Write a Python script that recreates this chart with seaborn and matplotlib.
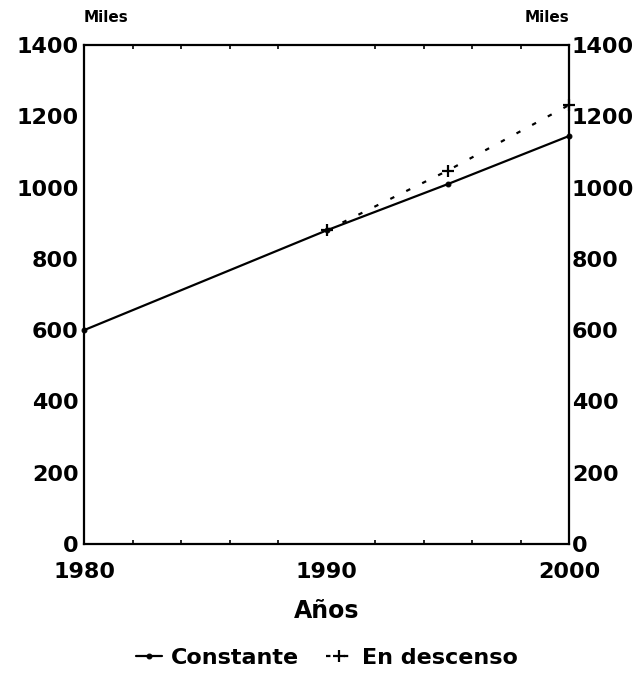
import numpy as np
import pandas as pd
import matplotlib
matplotlib.use("Agg")
import matplotlib.pyplot as plt
import seaborn as sns

# ============================================
# Data (miles)
# ============================================
years_const = [1980, 1990, 1995, 2000]
constante = [600, 880, 1010, 1145]

years_desc = [1990, 1995, 2000]
en_descenso = [880, 1048, 1232]

y_ticks = [0, 200, 400, 600, 800, 1000, 1200, 1400]
x_ticks = [1980, 1990, 2000]

sns.set_style("white")
plt.rcParams["font.family"] = ["DejaVu Sans"]
plt.rcParams["font.weight"] = "bold"
plt.rcParams["text.color"] = "black"
plt.rcParams["xtick.color"] = "black"
plt.rcParams["ytick.color"] = "black"
plt.rcParams["axes.labelcolor"] = "black"

fig = plt.figure(figsize=(6.39, 6.74), dpi=100)
ax = fig.add_axes([0.1315, 0.193, 0.759, 0.740])

df_c = pd.DataFrame({"year": years_const, "value": constante})
df_d = pd.DataFrame({"year": years_desc, "value": en_descenso})

sns.lineplot(data=df_c, x="year", y="value", ax=ax, color="black",
             linewidth=1.6, marker="o", markersize=3.5,
             markeredgecolor="black", markerfacecolor="black",
             label="Constante", clip_on=False)
sns.lineplot(data=df_d, x="year", y="value", ax=ax, color="black",
             linewidth=1.6, linestyle=(0, (2, 6)), marker="+",
             markersize=9, markeredgewidth=1.6, markeredgecolor="black",
             label="En descenso", clip_on=False)

ax.set_xlim(1980, 2000)
ax.set_ylim(0, 1400)
ax.set_xticks(x_ticks)
ax.set_yticks(y_ticks)
ax.set_xticks(np.arange(1980, 2001, 2), minor=True)
ax.tick_params(axis="y", which="major", labelsize=16, length=0, pad=4)
ax.tick_params(axis="x", which="major", labelsize=16, length=0, pad=13)
ax.tick_params(axis="x", which="minor", direction="in", length=3,
               width=1.2, top=True, bottom=True)
for lab in ax.get_xticklabels() + ax.get_yticklabels():
    lab.set_fontweight("bold")
for sp in ax.spines.values():
    sp.set_color("black")
    sp.set_linewidth(1.6)

ax.set_xlabel("Años", fontsize=17, fontweight="bold", labelpad=12)
ax.set_ylabel("")

# right axis with the same scale
ax2 = ax.twinx()
ax2.set_ylim(0, 1400)
ax2.set_yticks(y_ticks)
ax2.tick_params(axis="y", labelsize=16, length=0, pad=2)
for lab in ax2.get_yticklabels():
    lab.set_fontweight("bold")
for sp in ax2.spines.values():
    sp.set_visible(False)

ax.text(0.0, 1.04, "Miles", transform=ax.transAxes, fontsize=11,
        fontweight="bold", ha="left", va="bottom")
ax.text(1.0, 1.04, "Miles", transform=ax.transAxes, fontsize=11,
        fontweight="bold", ha="right", va="bottom")

leg = ax.legend(loc="upper center", bbox_to_anchor=(0.5, -0.19), ncol=2,
                frameon=False, fontsize=16, handlelength=1.2,
                handletextpad=0.4, columnspacing=1.2, borderaxespad=0)
for t in leg.get_texts():
    t.set_fontweight("bold")

fig.savefig("out.png", dpi=100)
